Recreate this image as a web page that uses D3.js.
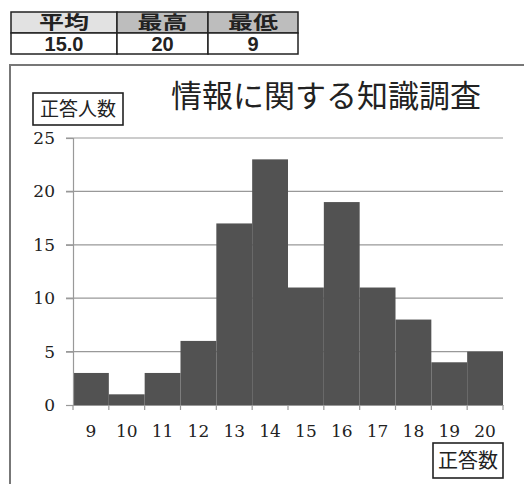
<!DOCTYPE html>
<html>
<head>
<meta charset="utf-8">
<script src="https://cdn.jsdelivr.net/npm/d3@7"></script>
<style>
body { margin: 0; background: #fff; }
svg { display: block; }
</style>
</head>
<body>
<svg id="chart" width="524" height="484"></svg>
<script>
// 正答数ごとの人数
var scores = [9, 10, 11, 12, 13, 14, 15, 16, 17, 18, 19, 20],
    counts = [3, 1, 3, 6, 17, 23, 11, 19, 11, 8, 4, 5],
    yTicks = [0, 5, 10, 15, 20, 25],
    statHeads = ["平均", "最高", "最低"],
    statValues = ["15.0", "20", "9"];

var svg = d3.select("#chart"),
    serif = "'DejaVu Serif', 'Liberation Serif', serif",
    cjk = "'Noto Sans CJK JP', sans-serif";

// 上の集計表
var tbl = svg.append("g"),
    colX = d3.scaleOrdinal().domain(statHeads).range([11, 117, 208]),
    colW = [106, 91, 90],
    headFill = ["#e2e2e2", "#bdbdbd", "#bdbdbd"];

statHeads.forEach(function (h, i) {
    tbl.append("rect").attr("x", colX(h)).attr("y", 12).attr("width", colW[i]).attr("height", 21)
        .attr("fill", headFill[i]).attr("stroke", "#222").attr("stroke-width", 1.5);
    tbl.append("rect").attr("x", colX(h)).attr("y", 33).attr("width", colW[i]).attr("height", 21)
        .attr("fill", "#fff").attr("stroke", "#222").attr("stroke-width", 1.5);
    tbl.append("text").attr("x", colX(h) + colW[i] / 2).attr("y", 29)
        .attr("text-anchor", "middle").attr("font-family", cjk).attr("font-weight", "bold")
        .attr("font-size", 18).attr("textLength", 50).attr("lengthAdjust", "spacingAndGlyphs")
        .attr("fill", "#222").text(h);
    tbl.append("text").attr("x", colX(h) + colW[i] / 2).attr("y", 51)
        .attr("text-anchor", "middle").attr("font-family", "'Liberation Sans', Arial, sans-serif")
        .attr("font-weight", "bold").attr("font-size", 20).attr("fill", "#222").text(statValues[i]);
});

// 外枠 (左と上のみ見える)
svg.append("path").attr("d", "M10,484V65H524").attr("fill", "none")
    .attr("stroke", "#777").attr("stroke-width", 2);

// タイトル
svg.append("text").attr("x", 326).attr("y", 107).attr("text-anchor", "middle")
    .attr("font-family", cjk).attr("font-size", 31).attr("fill", "#222")
    .text("情報に関する知識調査");

var margin = {left: 73, right: 503, top: 138, bottom: 405};

var x = d3.scaleBand().domain(scores).range([margin.left, margin.right]).padding(0),
    y = d3.scaleLinear().domain([0, 25]).range([margin.bottom, margin.top]);

// 目盛線
svg.append("g").selectAll("line").data(yTicks.filter(function (d) { return d > 0; })).enter()
    .append("line")
    .attr("x1", margin.left - 7).attr("x2", margin.right)
    .attr("y1", function (d) { return y(d); }).attr("y2", function (d) { return y(d); })
    .attr("stroke", "#999").attr("stroke-width", 1.2);

// 棒
svg.append("g").selectAll("rect").data(counts).enter().append("rect")
    .attr("x", function (d, i) { return x(scores[i]); })
    .attr("width", x.bandwidth())
    .attr("y", function (d) { return y(d); })
    .attr("height", function (d) { return y(0) - y(d); })
    .attr("fill", "#525252");

// y軸
var yAxis = svg.append("g").attr("transform", "translate(" + margin.left + ",0)")
    .call(d3.axisLeft(y).tickValues(yTicks).tickSize(7).tickPadding(11));
yAxis.select(".domain").attr("stroke", "#999").attr("stroke-width", 1.2);
yAxis.selectAll(".tick line").attr("stroke", "#999").attr("stroke-width", 1.2);
yAxis.selectAll("text").attr("font-family", serif).attr("font-size", 17).attr("fill", "#222");

// x軸
var xAxis = svg.append("g").attr("transform", "translate(0," + margin.bottom + ")")
    .call(d3.axisBottom(x).tickSize(0).tickPadding(20));
xAxis.select(".domain").attr("stroke", "#999").attr("stroke-width", 1.2);
xAxis.selectAll("text").attr("font-family", serif).attr("font-size", 17).attr("fill", "#222");
var edges = scores.map(function (s) { return x(s); }).concat([margin.right]);
xAxis.selectAll(".edge").data(edges).enter().append("line")
    .attr("x1", function (d) { return d; }).attr("x2", function (d) { return d; })
    .attr("y1", 0).attr("y2", 5).attr("stroke", "#999").attr("stroke-width", 1.2);

// 軸ラベル
function labelBox(tx, bx, by, bw, bh, fs) {
    svg.append("rect").attr("x", bx).attr("y", by).attr("width", bw).attr("height", bh)
        .attr("fill", "#fff").attr("stroke", "#222").attr("stroke-width", 1.6);
    svg.append("text").attr("x", bx + bw / 2).attr("y", by + bh / 2 + fs * 0.36)
        .attr("text-anchor", "middle").attr("font-family", cjk).attr("font-size", fs)
        .attr("fill", "#222").text(tx);
}
labelBox("正答人数", 33, 93, 90, 32, 19);
labelBox("正答数", 433, 443, 70, 35, 20);
</script>
</body>
</html>
